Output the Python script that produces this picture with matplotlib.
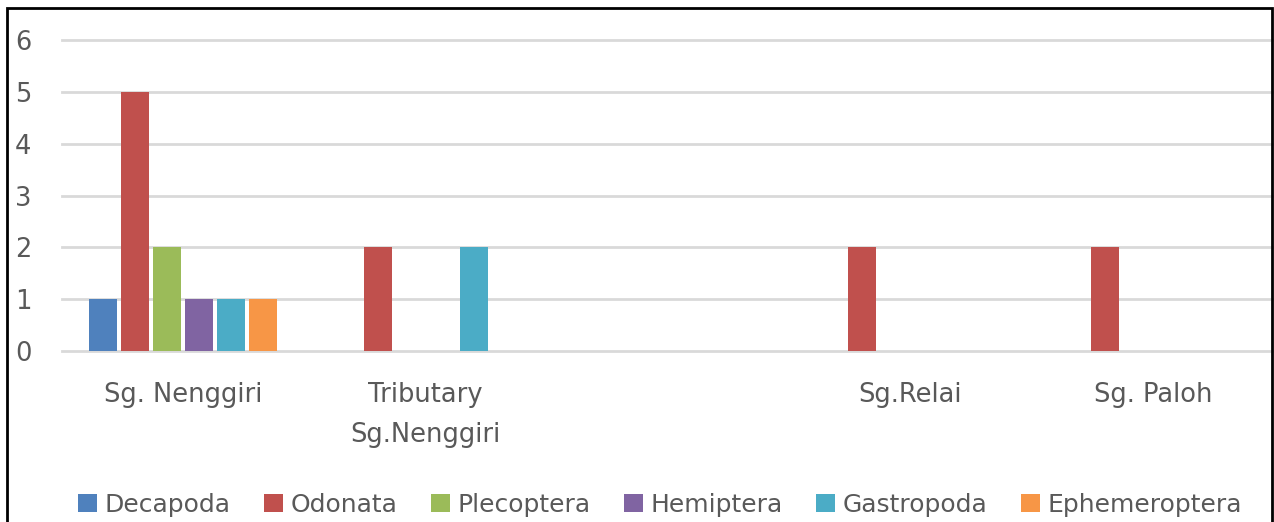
import matplotlib.pyplot as plt
import numpy as np
from matplotlib.patches import Rectangle

# datos
sitios = ["Sg. Nenggiri", "Tributary\nSg.Nenggiri", "", "Sg.Relai", "Sg. Paloh"]
ordenes = ["Decapoda", "Odonata", "Plecoptera", "Hemiptera", "Gastropoda", "Ephemeroptera"]
decapoda = [1, 0, 0, 0, 0]
odonata = [5, 2, 0, 2, 2]
plecoptera = [2, 0, 0, 0, 0]
hemiptera = [1, 0, 0, 0, 0]
gastropoda = [1, 2, 0, 0, 0]
ephemeroptera = [1, 0, 0, 0, 0]
colores = ["#4f81bd", "#c0504d", "#9bbb59", "#8064a2", "#4bacc6", "#f79646"]

series = [decapoda, odonata, plecoptera, hemiptera, gastropoda, ephemeroptera]

plt.rcParams['font.family'] = ['DejaVu Sans']

fig = plt.figure(figsize=(12.74, 5.22), dpi=100)
ax = fig.add_axes([62/1274, 1 - 351/522, 1 - 62/1274, (351 - 40)/522])

x = np.arange(len(sitios))
ancho = 0.132
for i, (vals, nombre) in enumerate(zip(series, ordenes)):
    ax.bar(x + (i - 2.5) * ancho, vals, ancho * 0.87, color=colores[i], label=nombre, zorder=3)

ax.set_xlim(-0.5, len(sitios) - 0.5)
ax.set_ylim(0, 6)
ax.set_yticks(range(0, 7))
ax.set_xticks(x)
ax.set_xticklabels(sitios, fontsize=18.5, color="#595959", linespacing=1.7)
ax.tick_params(axis="both", length=0, labelsize=18.5, labelcolor="#595959")
ax.tick_params(axis="x", pad=22)
ax.tick_params(axis="y", pad=22)
ax.grid(axis="y", color="#d9d9d9", linewidth=2, zorder=0)
for gl in ax.get_ygridlines():
    gl.set_clip_on(False)
for s in ax.spines.values():
    s.set_visible(False)

# marco negro recortado
fig.add_artist(Rectangle((7/1274, -0.1), (1272 - 7)/1274, 1.1 - 8/522, transform=fig.transFigure,
                         fill=False, edgecolor="black", linewidth=2))

fig.legend(loc="center", bbox_to_anchor=(660/1274, 1 - 505/522), ncol=6, frameon=False,
           fontsize=18, handlelength=0.75, handleheight=0.75, handletextpad=0.3,
           columnspacing=1.35, labelcolor="#595959")

fig.savefig("out.png", dpi=100)
